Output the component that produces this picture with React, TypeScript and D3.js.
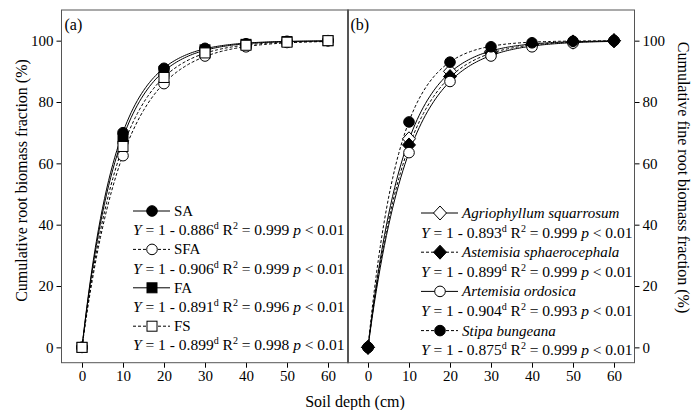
import { useRef, useEffect } from 'react';
import * as d3 from 'd3';

// soil depths (cm)
const depths = [0, 10, 20, 30, 40, 50, 60];

// panel (a) - cumulative root biomass fraction (%)
const saValues = [0, 70, 91, 97.5, 99, 99.8, 100];
const sfaValues = [0, 62.5, 86, 95, 98, 99.4, 100];
const faValues = [0, 68, 90, 97, 98.8, 99.7, 100];
const fsValues = [0, 65.5, 88, 96, 98.5, 99.5, 100];
const aNames = ['SA', 'SFA', 'FA', 'FS'];
const aBetas = [0.886, 0.906, 0.891, 0.899];
const aR2 = ['0.999', '0.999', '0.996', '0.998'];

// panel (b) - cumulative fine root biomass fraction (%)
const agriValues = [0, 68, 90, 96.5, 98.8, 99.6, 100];
const astemValues = [0, 66, 88.3, 96, 98.6, 99.5, 100];
const artemValues = [0, 63.5, 86.7, 95, 98, 99.2, 100];
const stipaValues = [0, 73.5, 93, 98, 99.3, 99.8, 100];
const bNames = ['Agriophyllum squarrosum', 'Astemisia sphaerocephala', 'Artemisia ordosica', 'Stipa bungeana'];
const bBetas = [0.893, 0.899, 0.904, 0.875];
const bR2 = ['0.999', '0.999', '0.993', '0.999'];

const xTicks = [0, 10, 20, 30, 40, 50, 60];
const yTicks = [0, 20, 40, 60, 80, 100];

const FONT = '"Liberation Serif", "Times New Roman", serif';

const App = () => {
    const svgRef = useRef(null);

    useEffect(() => {
        const w = 696;
        const h = 410;
        const svg = d3.select(svgRef.current)
            .attr('width', w)
            .attr('height', h)
            .style('position', 'absolute')
            .style('left', 0)
            .style('top', 0)
            .style('font-family', FONT);
        svg.selectAll('*').remove();

        const top = 10;
        const bottom = 362.7;
        const yScale = d3.scaleLinear().domain([-5, 110]).range([bottom, top]);

        // marker shapes
        const drawMarker = (g, kind, x, y) => {
            if (kind === 'circle' || kind === 'ocircle') {
                g.append('circle')
                    .attr('cx', x).attr('cy', y).attr('r', 5.3)
                    .attr('fill', kind === 'circle' ? '#000' : '#fff')
                    .attr('stroke', '#000').attr('stroke-width', 1);
            } else if (kind === 'square' || kind === 'osquare') {
                g.append('rect')
                    .attr('x', x - 5).attr('y', y - 5).attr('width', 10).attr('height', 10)
                    .attr('fill', kind === 'square' ? '#000' : '#fff')
                    .attr('stroke', '#000').attr('stroke-width', 1);
            } else {
                g.append('path')
                    .attr('d', `M${x},${y - 7}L${x + 6.5},${y}L${x},${y + 7}L${x - 6.5},${y}Z`)
                    .attr('fill', kind === 'diamond' ? '#000' : '#fff')
                    .attr('stroke', '#000').attr('stroke-width', 1);
            }
        };

        const drawPanel = (opts) => {
            const { x0, x1, series, label, side, legend } = opts;
            const xScale = d3.scaleLinear().domain([-5, 65]).range([x0, x1]);
            const g = svg.append('g');

            // axes
            const xAxis = d3.axisBottom(xScale).tickValues(xTicks).tickSize(5).tickPadding(3);
            const xg = g.append('g').attr('transform', `translate(0, ${bottom})`).call(xAxis);
            const yAxis = side === 'left'
                ? d3.axisLeft(yScale).tickValues(yTicks).tickSize(5).tickPadding(3)
                : d3.axisRight(yScale).tickValues(yTicks).tickSize(5).tickPadding(3);
            const yg = g.append('g')
                .attr('transform', `translate(${side === 'left' ? x0 : x1}, 0)`)
                .call(yAxis);
            [xg, yg].forEach(a => {
                a.select('.domain').remove();
                a.selectAll('text').style('font-family', FONT).style('font-size', '15px').attr('fill', '#000');
                a.selectAll('line').attr('stroke', '#000');
            });

            // frame
            g.append('rect')
                .attr('x', x0).attr('y', top)
                .attr('width', x1 - x0).attr('height', bottom - top)
                .attr('fill', 'none').attr('stroke', '#555').attr('stroke-width', 1);

            g.append('text')
                .attr('x', x0 + 3).attr('y', 30)
                .style('font-size', '16px')
                .text(label);

            // fitted curves Y = 1 - beta^d
            const line = d3.line()
                .x(d => xScale(d[0]))
                .y(d => yScale(d[1]))
                .curve(d3.curveBasis);
            series.forEach(s => {
                const pts = d3.range(0, 60.5, 0.5).map(d => [d, 100 * (1 - Math.pow(s.beta, d))]);
                g.append('path')
                    .attr('d', line(pts))
                    .attr('fill', 'none')
                    .attr('stroke', '#000')
                    .attr('stroke-width', 1)
                    .attr('stroke-dasharray', s.dashed ? '3,2' : null);
            });

            // points
            series.forEach(s => {
                s.values.forEach((v, i) => drawMarker(g, s.marker, xScale(depths[i]), yScale(v)));
            });

            // legend
            const { lx, ly, step, italic } = legend;
            series.forEach((s, i) => {
                const yLab = ly + i * 2 * step;
                const yEq = yLab + step;
                g.append('line')
                    .attr('x1', lx).attr('x2', lx + 37)
                    .attr('y1', yLab).attr('y2', yLab)
                    .attr('stroke', '#000').attr('stroke-width', 1)
                    .attr('stroke-dasharray', s.dashed ? '3,2' : null);
                drawMarker(g, s.marker, lx + 19, yLab);
                g.append('text')
                    .attr('x', lx + 41).attr('y', yLab + 5)
                    .style('font-size', '15px')
                    .style('font-style', italic ? 'italic' : 'normal')
                    .text(s.name);

                const t = g.append('text')
                    .attr('x', lx).attr('y', yEq + 5)
                    .style('font-size', '15.5px');
                t.append('tspan').style('font-style', 'italic').text('Y');
                t.append('tspan').text(` = 1 - ${s.beta.toFixed(3)}`);
                t.append('tspan').attr('dy', -6).style('font-size', '10px').text('d');
                t.append('tspan').attr('dy', 6).text(' R');
                t.append('tspan').attr('dy', -6).style('font-size', '10px').text('2');
                t.append('tspan').attr('dy', 6).text(` = ${s.r2} `);
                t.append('tspan').style('font-style', 'italic').text('p');
                t.append('tspan').text(' < 0.01');
            });
        };

        drawPanel({
            x0: 61.5, x1: 348.5, side: 'left', label: '(a)',
            legend: { lx: 133, ly: 211, step: 19.2, italic: false },
            series: [
                { name: aNames[0], values: saValues, beta: aBetas[0], r2: aR2[0], marker: 'circle', dashed: false },
                { name: aNames[1], values: sfaValues, beta: aBetas[1], r2: aR2[1], marker: 'ocircle', dashed: true },
                { name: aNames[2], values: faValues, beta: aBetas[2], r2: aR2[2], marker: 'square', dashed: false },
                { name: aNames[3], values: fsValues, beta: aBetas[3], r2: aR2[3], marker: 'osquare', dashed: true },
            ],
        });

        drawPanel({
            x0: 347.5, x1: 634.5, side: 'right', label: '(b)',
            legend: { lx: 421, ly: 213, step: 19.6, italic: true },
            series: [
                { name: bNames[3], values: stipaValues, beta: bBetas[3], r2: bR2[3], marker: 'circle', dashed: true, order: 3 },
                { name: bNames[2], values: artemValues, beta: bBetas[2], r2: bR2[2], marker: 'ocircle', dashed: false, order: 2 },
                { name: bNames[0], values: agriValues, beta: bBetas[0], r2: bR2[0], marker: 'odiamond', dashed: false, order: 0 },
                { name: bNames[1], values: astemValues, beta: bBetas[1], r2: bR2[1], marker: 'diamond', dashed: true, order: 1 },
            ].sort((a, b) => a.order - b.order),
        });

        // axis titles
        svg.append('text')
            .attr('x', 355).attr('y', 407)
            .attr('text-anchor', 'middle')
            .style('font-size', '16px')
            .text('Soil depth (cm)');
        svg.append('text')
            .attr('transform', 'translate(27, 180.5) rotate(-90)')
            .attr('text-anchor', 'middle')
            .style('font-size', '16px')
            .text('Cumulative root biomass fraction (%)');
        svg.append('text')
            .attr('transform', 'translate(678, 177.5) rotate(90)')
            .attr('text-anchor', 'middle')
            .style('font-size', '16px')
            .text('Cumulative fine root biomass fraction (%)');
    }, []);

    return (
        <div>
            <svg ref={svgRef}></svg>
        </div>
    );
};

export default App;
